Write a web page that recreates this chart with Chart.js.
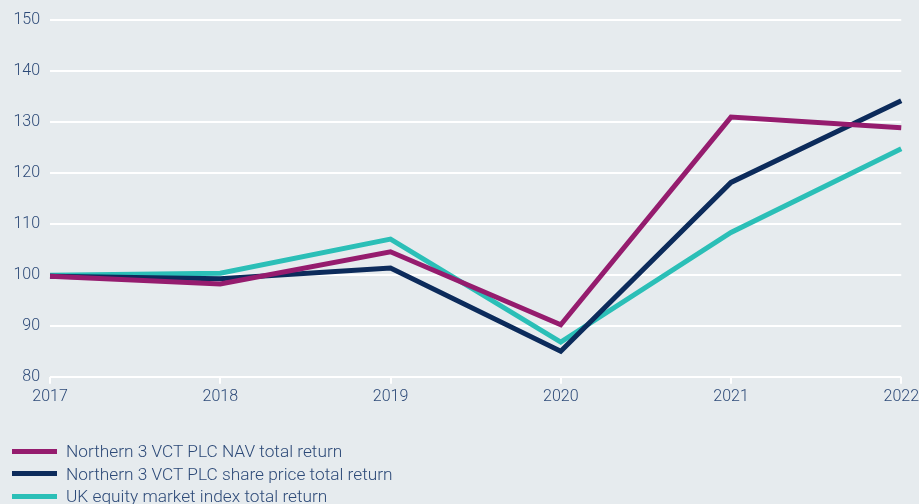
<!DOCTYPE html>
<html>
<head>
<meta charset="utf-8">
<script src="https://cdn.jsdelivr.net/npm/chart.js@4/dist/chart.umd.min.js"></script>
<style>
    html, body { margin: 0; padding: 0; background: #e6ebee; }
    #wrap { position: relative; width: 919px; height: 504px; overflow: hidden; }
    #chart { position: absolute; left: 0; top: 0; }
    #legend { position: absolute; left: 12px; top: 440px; font-family: Roboto, sans-serif; font-weight: 300; font-size: 17.3px; color: #2d4a78; }
    .item { height: 22.5px; line-height: 22px; display: flex; align-items: center; white-space: nowrap; }
    .swatch { width: 45px; height: 5px; margin-right: 9px; }
</style>
</head>
<body>
<div id="wrap">
    <canvas id="chart" width="923" height="504"></canvas>
    <div id="legend"></div>
</div>
<script>
// Chart data
const years = ['2017', '2018', '2019', '2020', '2021', '2022'];
const navReturn = [99.7, 98.2, 104.5, 90.2, 130.9, 128.8];
const sharePriceReturn = [99.7, 99.2, 101.3, 85.0, 118.1, 134.1];
const ukIndexReturn = [99.9, 100.3, 107.0, 86.8, 108.3, 124.7];

const seriesNames = [
    'Northern 3 VCT PLC NAV total return',
    'Northern 3 VCT PLC share price total return',
    'UK equity market index total return'
];
const seriesColors = ['#951c6e', '#0c2b5b', '#2bbfb7'];

const TEXT_COLOR = '#2d4a78';
const FONT = { family: 'Roboto, sans-serif', size: 16, weight: 300 };

const datasets = [navReturn, sharePriceReturn, ukIndexReturn].map((values, i) => ({
    label: seriesNames[i],
    data: values,
    borderColor: seriesColors[i],
    backgroundColor: seriesColors[i],
    borderWidth: 5,
    pointRadius: 0,
    tension: 0,
    borderJoinStyle: 'miter',
    order: i + 1
}));

const chart = new Chart(document.getElementById('chart'), {
    type: 'line',
    data: { labels: years, datasets: datasets },
    options: {
        responsive: false,
        animation: false,
        layout: { padding: { top: 11, left: 0, right: 0, bottom: 93 } },
        plugins: {
            legend: { display: false },
            tooltip: { enabled: false }
        },
        scales: {
            x: {
                offset: false,
                grid: {
                    drawOnChartArea: false,
                    drawTicks: true,
                    tickLength: 7,
                    color: '#ffffff',
                    lineWidth: 2
                },
                border: { display: false },
                ticks: { color: TEXT_COLOR, font: FONT, padding: 4, maxRotation: 0 }
            },
            y: {
                min: 80,
                max: 150,
                grid: { color: '#ffffff', lineWidth: 2, drawTicks: false },
                border: { display: false },
                ticks: { stepSize: 10, color: TEXT_COLOR, font: FONT, padding: 10 },
                afterFit: scale => { scale.width = 50; }
            }
        }
    }
});

// HTML legend, one entry per line
const legendEl = document.getElementById('legend');
chart.data.datasets.forEach(ds => {
    const row = document.createElement('div');
    row.className = 'item';
    const sw = document.createElement('span');
    sw.className = 'swatch';
    sw.style.background = ds.borderColor;
    const txt = document.createElement('span');
    txt.textContent = ds.label;
    row.appendChild(sw);
    row.appendChild(txt);
    legendEl.appendChild(row);
});
</script>
</body>
</html>
